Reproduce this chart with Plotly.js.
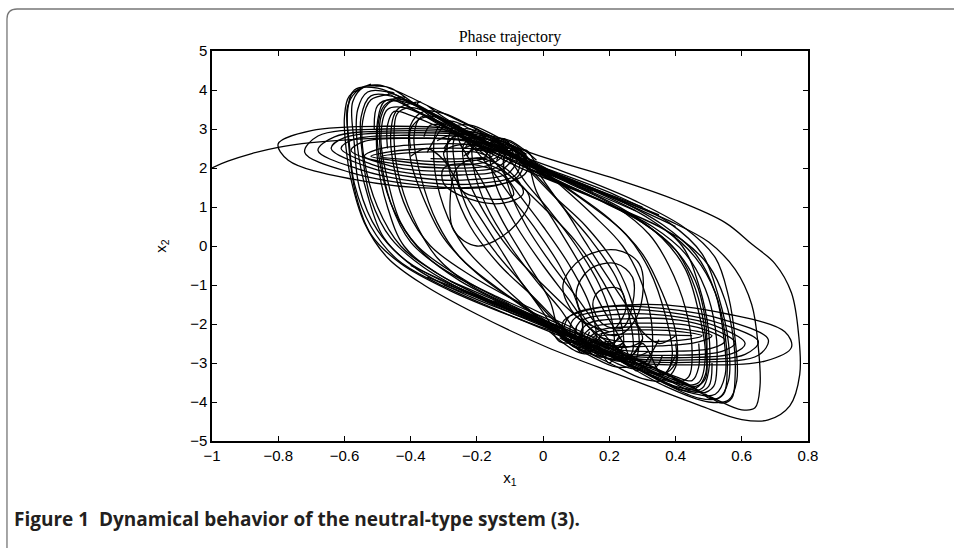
<!DOCTYPE html>
<html><head><meta charset="utf-8">
<script src="https://cdn.plot.ly/plotly-3.0.1.min.js"></script>
<style>html,body{margin:0;padding:0;background:#fff;}#chart{width:954px;height:548px;}</style>
</head><body><div id="chart"></div>
<script>
const xTicks = [-1,-0.8,-0.6,-0.4,-0.2,0,0.2,0.4,0.6,0.8];
const yTicks = [-5,-4,-3,-2,-1,0,1,2,3,4,5];

const initPath = [[-1,2.0],[-0.95,2.18],[-0.88,2.37],[-0.8,2.53],[-0.7,2.65],[-0.58,2.73],[-0.45,2.77],[-0.3,2.75],[-0.15,2.6]];

const upperScroll = [[-0.15,2.6],[-0.06,2.3],[-0.08,1.75],[-0.3,1.48],[-0.58,1.72],[-0.77,2.2],[-0.8,2.62],[-0.7,2.96],[-0.48,3.07],[-0.24,2.97],[-0.07,2.5],
[-0.05,1.9],[-0.16,1.52],[-0.36,1.55],[-0.58,1.88],[-0.72,2.4],[-0.68,2.82],[-0.48,3.0],[-0.24,2.92],[-0.08,2.45],
[-0.08,1.85],[-0.2,1.6],[-0.38,1.65],[-0.56,1.98],[-0.68,2.45],[-0.63,2.8],[-0.45,2.95],[-0.22,2.85],[-0.08,2.4],
[-0.1,1.9],[-0.22,1.7],[-0.38,1.75],[-0.53,2.03],[-0.64,2.5],[-0.6,2.78],[-0.43,2.9],[-0.2,2.8],[-0.09,2.38],
[-0.12,1.98],[-0.25,1.82],[-0.4,1.86],[-0.52,2.1],[-0.61,2.5],[-0.57,2.74],[-0.42,2.84],[-0.2,2.74],[-0.1,2.36],
[-0.14,2.02],[-0.28,1.92],[-0.42,1.98],[-0.5,2.15],[-0.58,2.45],[-0.54,2.68],[-0.4,2.76],[-0.2,2.68],[-0.12,2.38],
[-0.16,2.08],[-0.3,2.0],[-0.44,2.1],[-0.54,2.3],[-0.5,2.48],[-0.38,2.6],[-0.2,2.58],[-0.13,2.36],
[-0.18,2.14],[-0.32,2.08],[-0.44,2.18],[-0.52,2.3],[-0.46,2.42],[-0.34,2.5],[-0.2,2.48],[-0.15,2.34],
[-0.2,2.2],[-0.32,2.16],[-0.42,2.22],[-0.49,2.29],[-0.42,2.38],[-0.3,2.42],[-0.2,2.4],[-0.17,2.3],[-0.24,2.24],[-0.34,2.24]];

const lowerScroll = [[0.06,-2.3],[0.08,-1.8],[0.3,-1.5],[0.56,-1.75],[0.73,-2.2],[0.75,-2.6],[0.67,-2.95],[0.47,-3.05],[0.24,-2.95],[0.08,-2.5],
[0.06,-1.95],[0.17,-1.58],[0.36,-1.6],[0.55,-1.9],[0.68,-2.4],[0.65,-2.8],[0.47,-2.98],[0.25,-2.9],[0.09,-2.45],
[0.09,-1.9],[0.2,-1.65],[0.38,-1.7],[0.54,-2.0],[0.65,-2.45],[0.61,-2.78],[0.45,-2.92],[0.23,-2.84],[0.1,-2.42],
[0.11,-1.95],[0.23,-1.75],[0.39,-1.8],[0.52,-2.05],[0.61,-2.5],[0.57,-2.76],[0.43,-2.86],[0.22,-2.78],[0.11,-2.4],
[0.13,-2.02],[0.26,-1.86],[0.41,-1.9],[0.51,-2.12],[0.58,-2.48],[0.54,-2.7],[0.41,-2.8],[0.21,-2.72],[0.12,-2.38],
[0.15,-2.08],[0.29,-1.98],[0.43,-2.02],[0.5,-2.18],[0.55,-2.42],[0.51,-2.62],[0.39,-2.7],[0.21,-2.64],[0.14,-2.38],
[0.18,-2.14],[0.31,-2.08],[0.43,-2.14],[0.51,-2.3],[0.47,-2.46],[0.36,-2.56],[0.21,-2.55],[0.15,-2.36],
[0.2,-2.2],[0.32,-2.15],[0.42,-2.2],[0.48,-2.3],[0.43,-2.4],[0.32,-2.45],[0.22,-2.43],[0.17,-2.32],[0.24,-2.26],[0.34,-2.27],[0.45,-2.3]];

const ringLoops = [[-0.52,4.15],[-0.585,3.85],[-0.6,3.3],[-0.595,2.5],[-0.58,1.7],[-0.54,0.6],[-0.47,-0.3],[-0.36,-1.0],[-0.2,-1.75],[0.01,-2.59],[0.25,-3.37],[0.47,-4.08],[0.6,-4.45],[0.68,-4.46],[0.745,-4.1],[0.775,-3.3],[0.772,-2.3],[0.75,-1.2],[0.7,-0.45],[0.63,0.05],[0.55,0.6],[0.4,1.18],[0.2,1.77],[-0.06,2.46],[-0.31,3.44],[-0.45,4.0],[-0.5,4.13],
[-0.55,4.05],[-0.59,3.6],[-0.585,2.6],[-0.57,1.6],[-0.52,0.5],[-0.44,-0.35],[-0.32,-0.95],[-0.15,-1.6],[0.05,-2.3],[0.28,-3.1],[0.5,-3.85],[0.6,-4.2],[0.64,-4.15],[0.655,-3.6],[0.65,-2.6],[0.63,-1.5],[0.58,-0.6],[0.5,0.1],[0.38,0.65],[0.2,1.3],[0.0,1.95],[-0.2,2.7],[-0.38,3.6],[-0.46,4.05],[-0.5,4.1],
[-0.54,4.08],[-0.575,3.7],[-0.57,2.6],[-0.555,1.5],[-0.5,0.4],[-0.41,-0.4],[-0.28,-1.0],[-0.1,-1.7],[0.1,-2.4],[0.3,-3.1],[0.48,-3.75],[0.54,-4.03],[0.57,-3.9],[0.58,-3.3],[0.575,-2.4],[0.55,-1.4],[0.5,-0.5],[0.42,0.15],[0.3,0.7],[0.12,1.35],[-0.08,2.05],[-0.26,2.85],[-0.4,3.55],[-0.47,3.95],
[-0.45,3.92],[-0.52,3.75],[-0.545,3.2],[-0.54,2.2],[-0.5,1.0],[-0.43,0.0],[-0.32,-0.7],[-0.15,-1.45],[0.05,-2.2],[0.27,-2.95],[0.45,-3.6],[0.51,-3.93],[0.545,-3.8],[0.556,-3.2],[0.55,-2.3],[0.52,-1.2],[0.46,-0.3],[0.37,0.4],[0.22,1.0],[0.05,1.65],[-0.15,2.4],[-0.3,3.1],[-0.4,3.7],
[-0.42,3.82],[-0.48,3.6],[-0.5,3.0],[-0.49,2.0],[-0.45,0.9],[-0.38,0.0],[-0.26,-0.75],[-0.1,-1.5],[0.1,-2.25],[0.3,-3.0],[0.44,-3.55],[0.48,-3.77],[0.515,-3.6],[0.525,-3.0],[0.52,-2.1],[0.49,-1.1],[0.43,-0.2],[0.33,0.5],[0.18,1.15],[0.0,1.8],[-0.18,2.55],[-0.32,3.2],[-0.38,3.65],
[-0.37,3.7],[-0.44,3.5],[-0.46,2.9],[-0.45,2.0],[-0.41,0.9],[-0.34,0.0],[-0.22,-0.75],[-0.06,-1.5],[0.14,-2.3],[0.32,-3.05],[0.42,-3.5],[0.46,-3.6],[0.49,-3.4],[0.495,-2.8],[0.49,-1.9],[0.46,-0.9],[0.4,-0.1],[0.3,0.6],[0.15,1.25],[-0.02,1.95],[-0.18,2.7],[-0.3,3.3],[-0.35,3.6]];

const downSwings = [
[[0.3,1.0],[0.1,1.65],[-0.15,2.55],[-0.35,3.45],[-0.47,3.95],[-0.53,3.95],[-0.56,3.5],[-0.56,2.5],[-0.53,1.3],[-0.48,0.2],[-0.38,-0.6],[-0.22,-1.3],[-0.02,-1.95],[0.15,-2.45],[0.25,-2.6],[0.3,-2.4],[0.28,-2.0]],
[[0.25,1.1],[0.05,1.8],[-0.15,2.6],[-0.32,3.35],[-0.42,3.75],[-0.48,3.7],[-0.5,3.2],[-0.5,2.2],[-0.47,1.0],[-0.42,0.0],[-0.32,-0.7],[-0.17,-1.35],[0.0,-1.9],[0.12,-2.3],[0.2,-2.5],[0.24,-2.3]],
[[0.2,1.3],[0.0,2.0],[-0.2,2.8],[-0.34,3.4],[-0.4,3.55],[-0.44,3.4],[-0.45,2.7],[-0.43,1.6],[-0.38,0.5],[-0.32,-0.3],[-0.22,-1.0],[-0.08,-1.6],[0.05,-2.1],[0.1,-2.4],[0.16,-2.45],[0.18,-2.2]],
[[0.15,1.4],[-0.05,2.1],[-0.22,2.9],[-0.32,3.3],[-0.37,3.3],[-0.39,2.8],[-0.37,1.8],[-0.32,0.6],[-0.25,-0.3],[-0.15,-1.0],[-0.05,-1.6],[0.04,-2.1],[0.08,-2.45],[0.12,-2.5],[0.14,-2.2]],
[[0.1,1.6],[-0.08,2.3],[-0.22,3.0],[-0.28,3.2],[-0.32,3.0],[-0.33,2.2],[-0.3,1.0],[-0.24,0.0],[-0.15,-0.8],[-0.06,-1.5],[0.02,-2.1],[0.05,-2.45],[0.09,-2.45],[0.1,-2.1]],
[[0.05,1.8],[-0.1,2.5],[-0.2,2.95],[-0.24,3.0],[-0.27,2.7],[-0.26,1.8],[-0.22,0.8],[-0.14,-0.2],[-0.06,-1.0],[0.0,-1.7],[0.04,-2.2],[0.07,-2.42],[0.11,-2.35],[0.12,-1.95]],
[[0.0,2.0],[-0.12,2.6],[-0.17,2.85],[-0.21,2.7],[-0.21,2.0],[-0.17,1.0],[-0.1,0.0],[-0.02,-0.9],[0.05,-1.6],[0.1,-2.2],[0.14,-2.5],[0.2,-2.6],[0.23,-2.3]],
[[-0.02,2.2],[-0.1,2.7],[-0.14,2.75],[-0.16,2.4],[-0.14,1.5],[-0.08,0.5],[0.0,-0.5],[0.08,-1.4],[0.14,-2.1],[0.2,-2.6],[0.27,-2.85],[0.32,-2.7]],
[[0.35,0.8],[0.15,1.45],[-0.1,2.3],[-0.3,3.2],[-0.44,3.8],[-0.52,3.85],[-0.55,3.3],[-0.545,2.3],[-0.52,1.2],[-0.46,0.2],[-0.36,-0.55],[-0.2,-1.3],[0.0,-2.0],[0.2,-2.75],[0.38,-3.45],[0.46,-3.75],[0.5,-3.6],[0.51,-3.0]],
[[0.4,0.5],[0.22,1.2],[-0.02,2.05],[-0.25,3.0],[-0.4,3.65],[-0.46,3.7],[-0.49,3.3],[-0.49,2.3],[-0.46,1.1],[-0.4,0.1],[-0.3,-0.6],[-0.14,-1.3],[0.06,-2.05],[0.25,-2.8],[0.4,-3.35],[0.45,-3.45],[0.47,-3.1],[0.47,-2.5]],
[[0.28,0.9],[0.05,1.75],[-0.18,2.7],[-0.38,3.6],[-0.5,4.05],[-0.57,4.0],[-0.59,3.5],[-0.585,2.4],[-0.565,1.3],[-0.52,0.3],[-0.43,-0.45],[-0.28,-1.15],[-0.08,-1.85],[0.1,-2.4],[0.18,-2.65],[0.24,-2.5]],
[[-0.08,2.5],[-0.2,3.0],[-0.3,3.4],[-0.36,3.45],[-0.4,3.1],[-0.4,2.2],[-0.36,1.2],[-0.3,0.2],[-0.2,-0.7],[-0.08,-1.45],[0.02,-2.05],[0.08,-2.5],[0.14,-2.7],[0.19,-2.45]],
[[-0.05,2.35],[-0.15,2.85],[-0.22,3.1],[-0.27,3.05],[-0.29,2.5],[-0.27,1.5],[-0.22,0.5],[-0.13,-0.5],[-0.03,-1.3],[0.05,-2.0],[0.12,-2.55],[0.2,-2.9],[0.27,-2.8],[0.3,-2.4]],
[[-0.12,2.55],[-0.2,2.8],[-0.24,2.6],[-0.23,1.8],[-0.18,0.9],[-0.1,-0.1],[0.0,-1.0],[0.1,-1.8],[0.2,-2.5],[0.3,-3.1],[0.36,-3.3],[0.4,-3.0],[0.4,-2.5]],
[[-0.15,2.45],[-0.27,2.95],[-0.42,3.55],[-0.47,3.5],[-0.49,2.8],[-0.47,1.7],[-0.43,0.6],[-0.36,-0.2],[-0.25,-0.9],[-0.1,-1.55],[0.04,-2.15],[0.09,-2.45],[0.13,-2.35]],
[[-0.1,2.6],[-0.12,2.2],[-0.1,1.4],[-0.05,0.5],[0.02,-0.4],[0.1,-1.3],[0.16,-2.0],[0.22,-2.6],[0.28,-3.0],[0.34,-3.1],[0.36,-2.8]]
];

const upSwings = [
[[-0.3,-1.0],[-0.1,-1.65],[0.15,-2.55],[0.35,-3.45],[0.47,-3.9],[0.53,-3.9],[0.56,-3.45],[0.56,-2.5],[0.53,-1.3],[0.48,-0.2],[0.38,0.6],[0.22,1.3],[0.02,1.95],[-0.15,2.45],[-0.25,2.6],[-0.3,2.4],[-0.28,2.0]],
[[-0.25,-1.1],[-0.05,-1.8],[0.15,-2.6],[0.32,-3.3],[0.42,-3.7],[0.48,-3.65],[0.5,-3.2],[0.5,-2.2],[0.47,-1.0],[0.42,0.0],[0.32,0.7],[0.17,1.35],[0.0,1.9],[-0.12,2.3],[-0.2,2.5],[-0.24,2.3]],
[[-0.2,-1.3],[0.0,-2.0],[0.2,-2.8],[0.34,-3.35],[0.4,-3.5],[0.44,-3.35],[0.45,-2.7],[0.43,-1.6],[0.38,-0.5],[0.32,0.3],[0.22,1.0],[0.08,1.6],[-0.05,2.1],[-0.1,2.4],[-0.16,2.45],[-0.18,2.2]],
[[-0.15,-1.4],[0.05,-2.1],[0.22,-2.9],[0.32,-3.25],[0.37,-3.25],[0.39,-2.8],[0.37,-1.8],[0.32,-0.6],[0.25,0.3],[0.15,1.0],[0.05,1.6],[-0.04,2.1],[-0.08,2.45],[-0.12,2.5],[-0.14,2.2]],
[[-0.1,-1.6],[0.08,-2.3],[0.22,-3.0],[0.28,-3.15],[0.32,-3.0],[0.33,-2.2],[0.3,-1.0],[0.24,0.0],[0.15,0.8],[0.06,1.5],[-0.02,2.1],[-0.05,2.45],[-0.09,2.45],[-0.1,2.1]],
[[-0.05,-1.8],[0.1,-2.5],[0.2,-2.9],[0.24,-2.95],[0.27,-2.7],[0.26,-1.8],[0.22,-0.8],[0.14,0.2],[0.06,1.0],[0.0,1.7],[-0.04,2.2],[-0.07,2.45],[-0.11,2.4],[-0.12,2.0]],
[[0.0,-2.0],[0.12,-2.6],[0.17,-2.85],[0.21,-2.7],[0.21,-2.0],[0.17,-1.0],[0.1,0.0],[0.02,0.9],[-0.05,1.6],[-0.1,2.2],[-0.14,2.5],[-0.2,2.6],[-0.23,2.3]],
[[0.02,-2.2],[0.1,-2.7],[0.14,-2.75],[0.16,-2.4],[0.14,-1.5],[0.08,-0.5],[0.0,0.5],[-0.08,1.4],[-0.14,2.1],[-0.2,2.6],[-0.27,2.85],[-0.32,2.7]],
[[-0.35,-0.8],[-0.15,-1.45],[0.1,-2.3],[0.3,-3.2],[0.44,-3.75],[0.52,-3.8],[0.55,-3.3],[0.545,-2.3],[0.52,-1.2],[0.46,-0.2],[0.36,0.55],[0.2,1.3],[0.0,2.0],[-0.2,2.75],[-0.38,3.45],[-0.46,3.75],[-0.5,3.6],[-0.51,3.0]],
[[-0.4,-0.5],[-0.22,-1.2],[0.02,-2.05],[0.25,-3.0],[0.4,-3.6],[0.46,-3.65],[0.49,-3.3],[0.49,-2.3],[0.46,-1.1],[0.4,-0.1],[0.3,0.6],[0.14,1.3],[-0.06,2.05],[-0.25,2.8],[-0.4,3.35],[-0.45,3.45],[-0.47,3.1],[-0.47,2.5]],
[[-0.28,-0.9],[-0.05,-1.75],[0.18,-2.7],[0.37,-3.6],[0.5,-4.0],[0.56,-3.95],[0.585,-3.45],[0.58,-2.4],[0.56,-1.3],[0.52,-0.3],[0.43,0.45],[0.28,1.15],[0.08,1.85],[-0.1,2.4],[-0.18,2.65],[-0.24,2.5]],
[[0.08,-2.5],[0.2,-3.0],[0.3,-3.4],[0.36,-3.45],[0.4,-3.1],[0.4,-2.2],[0.36,-1.2],[0.3,-0.2],[0.2,0.7],[0.08,1.45],[-0.02,2.05],[-0.08,2.5],[-0.14,2.7],[-0.19,2.45]],
[[0.05,-2.35],[0.15,-2.85],[0.22,-3.1],[0.27,-3.05],[0.29,-2.5],[0.27,-1.5],[0.22,-0.5],[0.13,0.5],[0.03,1.3],[-0.05,2.0],[-0.12,2.55],[-0.2,2.9],[-0.27,2.8],[-0.3,2.4]],
[[0.12,-2.55],[0.2,-2.8],[0.24,-2.6],[0.23,-1.8],[0.18,-0.9],[0.1,0.1],[0.0,1.0],[-0.1,1.8],[-0.2,2.5],[-0.3,3.1],[-0.36,3.3],[-0.4,3.0],[-0.4,2.5]],
[[0.15,-2.45],[0.27,-2.95],[0.42,-3.55],[0.47,-3.5],[0.49,-2.8],[0.47,-1.7],[0.43,-0.6],[0.36,0.2],[0.25,0.9],[0.1,1.55],[-0.04,2.15],[-0.09,2.45],[-0.13,2.35]],
[[0.1,-2.6],[0.12,-2.2],[0.1,-1.4],[0.05,-0.5],[-0.02,0.4],[-0.1,1.3],[-0.16,2.0],[-0.22,2.6],[-0.28,3.0],[-0.34,3.1],[-0.36,2.8]]
];

const crossings = [
[[-0.25,2.6],[-0.18,1.6],[-0.12,0.6],[-0.05,-0.4],[0.02,-1.4],[0.05,-2.2],[0.1,-2.6],[0.16,-2.4]],
[[0.25,-2.6],[0.18,-1.6],[0.12,-0.6],[0.05,0.4],[-0.02,1.4],[-0.05,2.2],[-0.1,2.6],[-0.16,2.4]],
[[-0.1,2.4],[-0.02,1.8],[0.06,1.0],[0.12,0.2],[0.18,-0.6],[0.25,-1.5],[0.3,-2.2],[0.35,-2.5],[0.4,-2.3]],
[[0.1,-2.4],[0.02,-1.8],[-0.06,-1.0],[-0.12,-0.2],[-0.18,0.6],[-0.25,1.5],[-0.3,2.2],[-0.35,2.5],[-0.4,2.3]]
];

const upperLobes = [[-0.2,2.2],[-0.1,1.8],[-0.04,1.2],[-0.1,0.4],[-0.2,0.0],[-0.27,0.4],[-0.28,1.3],[-0.26,2.0],[-0.2,2.25],[-0.1,1.9],[-0.06,1.35],[-0.12,1.1],[-0.22,1.2],[-0.3,1.6],[-0.3,2.0],[-0.22,2.1],[-0.12,1.8],[-0.09,1.3],[-0.16,1.2],[-0.25,1.45],[-0.26,1.9]];
const lowerLobes = [[0.2,-2.2],[0.1,-1.8],[0.06,-1.0],[0.12,-0.3],[0.22,-0.1],[0.29,-0.45],[0.3,-1.3],[0.27,-2.0],[0.22,-2.3],[0.13,-1.9],[0.1,-1.2],[0.14,-0.6],[0.22,-0.45],[0.27,-0.8],[0.27,-1.5],[0.24,-2.1],[0.18,-2.0],[0.15,-1.5],[0.17,-1.15],[0.23,-1.1],[0.25,-1.6],[0.22,-2.1]];
const upperKnot = [[-0.35,2.4],[-0.28,3.2],[-0.24,2.5],[-0.2,3.0],[-0.15,2.4],[-0.12,2.75],[-0.08,2.3],[-0.14,2.6],[-0.2,2.45],[-0.26,2.85],[-0.3,2.5]];
const lowerKnot = [[0.35,-2.4],[0.28,-3.2],[0.24,-2.5],[0.2,-3.0],[0.15,-2.4],[0.12,-2.75],[0.08,-2.3],[0.14,-2.6],[0.2,-2.45],[0.26,-2.85],[0.3,-2.5],[0.36,-3.3],[0.4,-2.8]];

const segments = [initPath, upperScroll, lowerScroll, ringLoops, ...downSwings, ...upSwings, ...crossings, upperLobes, lowerLobes, upperKnot, lowerKnot];

const traces = segments.map(seg => ({
  x: seg.map(p => p[0]), y: seg.map(p => p[1]),
  type: 'scatter', mode: 'lines',
  line: {color: '#000', width: 1.3, shape: 'spline', smoothing: 1},
  hoverinfo: 'skip', showlegend: false
}));

const tickFont = {family: 'Liberation Sans, Arial, sans-serif', size: 15, color: '#000'};
const axisCommon = {
  showline: true, linecolor: '#000', linewidth: 1.6, mirror: 'ticks',
  ticks: 'inside', ticklen: 5, tickwidth: 1, tickcolor: '#000',
  showgrid: false, zeroline: false, tickfont: tickFont
};

const layout = {
  width: 954, height: 548,
  margin: {l: 212, r: 146, t: 51, b: 107},
  paper_bgcolor: '#fff', plot_bgcolor: '#fff',
  title: {text: 'Phase trajectory', x: 0.5, xref: 'paper', y: 0.934, yref: 'container', yanchor: 'middle',
    font: {family: 'Liberation Serif, Times New Roman, serif', size: 16, color: '#000'}},
  xaxis: Object.assign({}, axisCommon, {range: [-1, 0.8], tickvals: xTicks,
    title: {text: 'x<sub>1</sub>', standoff: 10, font: tickFont}}),
  yaxis: Object.assign({}, axisCommon, {range: [-5, 5], tickvals: yTicks,
    title: {text: 'x<sub>2</sub>', standoff: 20, font: tickFont}}),
  shapes: [{type: 'path', xref: 'paper', yref: 'paper',
    path: 'M -0.344,-0.35 L -0.344,1.082 Q -0.344,1.1077 -0.327,1.1077 L 1.4,1.1077',
    line: {color: '#777', width: 1.3}}],
  annotations: [{xref: 'paper', yref: 'paper', x: -0.336, y: -0.2, xanchor: 'left', yanchor: 'middle', showarrow: false,
    text: '<b>Figure 1  Dynamical behavior of the neutral-type system (3).</b>',
    font: {family: 'Open Sans, Noto Sans, sans-serif', size: 19, color: '#231f20'}}]
};

Plotly.newPlot('chart', traces, layout, {displayModeBar: false, staticPlot: true});
</script></body></html>
